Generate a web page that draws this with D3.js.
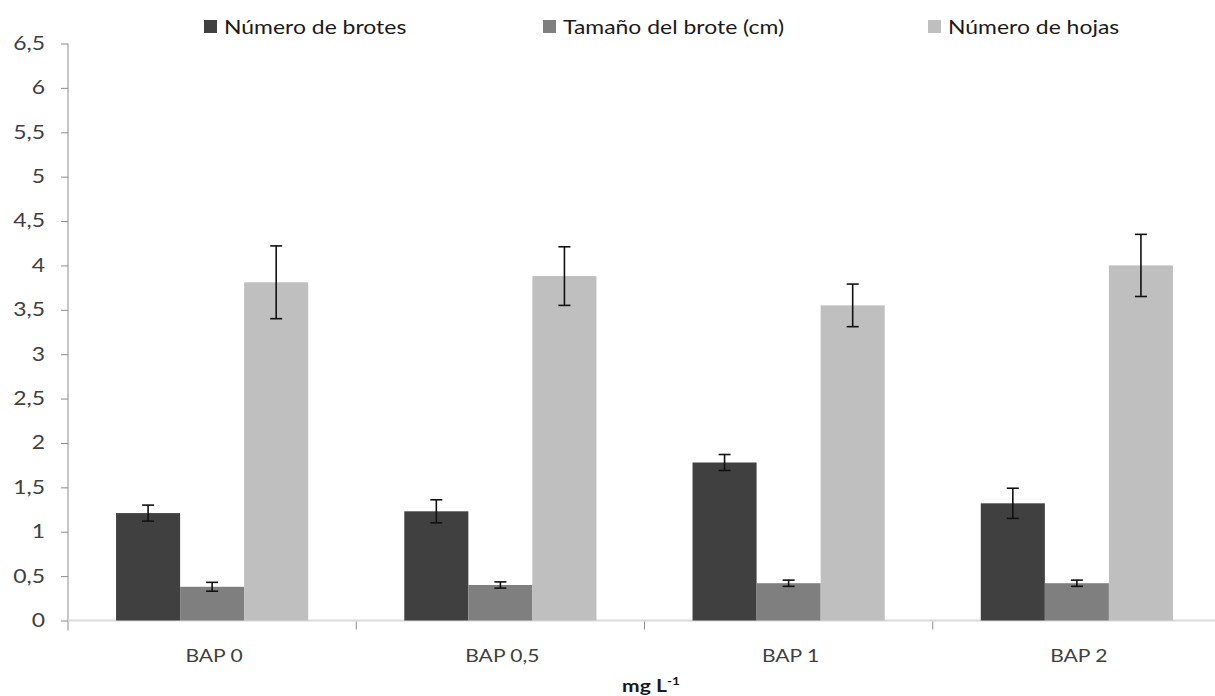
<!DOCTYPE html>
<html><head><meta charset="utf-8">
<script src="https://cdn.jsdelivr.net/npm/d3@7"></script>
<style>body{margin:0;background:#fff}svg{display:block}text{font-family:Lato,"Open Sans",sans-serif}</style>
</head><body><svg id="c" width="1215" height="696"></svg>
<script>
const categories = ["BAP 0","BAP 0,5","BAP 1","BAP 2"];
const seriesNames = ["Número de brotes","Tamaño del brote (cm)","Número de hojas"];
const seriesColors = ["#404040","#7f7f7f","#bfbfbf"];
const numBrotes = [1.21, 1.23, 1.78, 1.32];
const numBrotesErr = [0.09, 0.13, 0.09, 0.17];
const tamBrote = [0.38, 0.40, 0.42, 0.42];
const tamBroteErr = [0.05, 0.035, 0.035, 0.035];
const numHojas = [3.81, 3.88, 3.55, 4.00];
const numHojasErr = [0.41, 0.33, 0.24, 0.35];
const yTicks = [0,0.5,1,1.5,2,2.5,3,3.5,4,4.5,5,5.5,6,6.5];

const values = [numBrotes, tamBrote, numHojas];
const errs = [numBrotesErr, tamBroteErr, numHojasErr];

const SX = 1.24; // horizontal stretch of the original text
const svg = d3.select("#c");
const x0 = 68, x1 = 1221, yBase = 620.5, yTop = 43.5;
const x = d3.scaleBand().domain(categories).range([x0, x1]).paddingInner(0).paddingOuter(0);
const y = d3.scaleLinear().domain([0, 6.5]).range([yBase, yTop]);
const inner = d3.scaleBand().domain(d3.range(3)).range([0, x.bandwidth()]).paddingOuter(0.75).paddingInner(0);

const fmt = v => String(v).replace(".", ",");

function stext(parent, px, py, str, size, anchor, weight, color) {
  const g = parent.append("g").attr("transform", `translate(${px},${py}) scale(${SX},1)`);
  return g.append("text").attr("text-anchor", anchor).attr("font-size", size)
    .attr("font-weight", weight || "normal").attr("fill", color || "#404040").text(str);
}

// y axis
const yAxis = svg.append("g").attr("transform", `translate(${x0},0)`)
  .call(d3.axisLeft(y).tickValues(yTicks).tickSize(7).tickPadding(16).tickFormat(fmt));
yAxis.select(".domain").attr("stroke", "#8c8c8c").attr("d", `M0,${yTop}V${yBase + 10}`);
yAxis.selectAll(".tick line").attr("stroke", "#8c8c8c");
yAxis.selectAll(".tick text").attr("fill", "#404040").attr("font-size", 18.5)
  .attr("x", -23 / SX).attr("transform", `scale(${SX},1)`);

// baseline
svg.append("line").attr("x1", x0).attr("x2", 1215).attr("y1", yBase).attr("y2", yBase)
  .attr("stroke", "#d9d9d9").attr("stroke-width", 2);

// x axis ticks between categories
const bounds = categories.slice(1).map(c => x(c));
svg.selectAll(".xt").data(bounds).join("line")
  .attr("x1", d => d).attr("x2", d => d).attr("y1", yBase + 1).attr("y2", yBase + 9)
  .attr("stroke", "#8c8c8c");

categories.forEach(c => stext(svg, x(c) + x.bandwidth() / 2 + 2, 662, c, 17, "middle"));

// bars
values.forEach((vals, s) => {
  const g = svg.append("g");
  g.selectAll("rect").data(vals).join("rect")
    .attr("x", (d, i) => x(categories[i]) + inner(s))
    .attr("width", inner.bandwidth())
    .attr("y", d => y(d))
    .attr("height", d => yBase - y(d))
    .attr("fill", seriesColors[s]);
});

// error bars
values.forEach((vals, s) => {
  vals.forEach((v, i) => {
    const cx = x(categories[i]) + inner(s) + inner.bandwidth() / 2;
    const e = errs[s][i];
    const g = svg.append("g").attr("stroke", "#111").attr("stroke-width", 1.6);
    g.append("line").attr("x1", cx).attr("x2", cx).attr("y1", y(v + e)).attr("y2", y(v - e));
    g.append("line").attr("x1", cx - 6).attr("x2", cx + 6).attr("y1", y(v + e)).attr("y2", y(v + e));
    g.append("line").attr("x1", cx - 6).attr("x2", cx + 6).attr("y1", y(v - e)).attr("y2", y(v - e));
  });
});

// legend
const legendX = [204, 543, 928];
seriesNames.forEach((n, i) => {
  svg.append("rect").attr("x", legendX[i]).attr("y", 20).attr("width", 13).attr("height", 13).attr("fill", seriesColors[i]);
  stext(svg, legendX[i] + 20, 34, n, 18.5, "start", "normal", "#1a1a1a");
});

// x title
const t = stext(svg, 651, 692, "", 17, "middle", "bold", "#1a1a1a");
t.append("tspan").text("mg L");
t.append("tspan").attr("dy", -7).attr("font-size", 11).text("-1");
</script></body></html>
